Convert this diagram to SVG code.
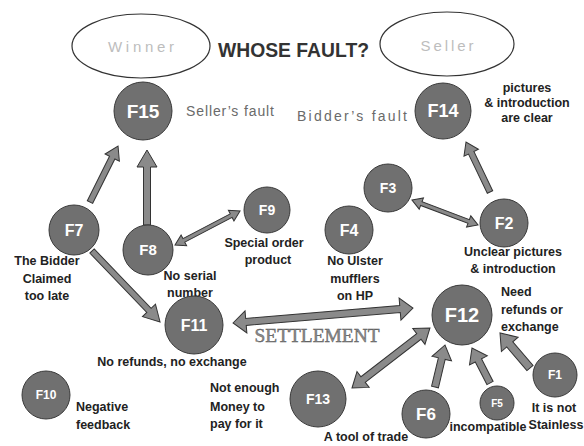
<svg xmlns="http://www.w3.org/2000/svg" width="584" height="446" viewBox="0 0 584 446">
<style>
.bg{fill:#ffffff}
.ell{fill:#ffffff;stroke:#333;stroke-width:1.2}
.ellt{font-family:"Liberation Sans",Arial,sans-serif;font-size:15px;fill:#bdbdbd;text-anchor:middle}
.node circle{fill:#707070;stroke:#3a3a3a;stroke-width:1}
.node text.id{font-family:"Liberation Sans",Arial,sans-serif;font-weight:bold;fill:#ffffff;text-anchor:middle}
.lbl{font-family:"Liberation Sans",Arial,sans-serif;font-weight:bold;font-size:12.5px;fill:#222;text-anchor:middle}
.lbls{font-family:"Liberation Sans",Arial,sans-serif;font-weight:bold;font-size:12.5px;fill:#222;text-anchor:start}
.soft{font-family:"Liberation Sans",Arial,sans-serif;font-size:14px;fill:#6a6a6a}
.arr{fill:#8a8a8a;stroke:#333;stroke-width:1;stroke-linejoin:miter}
</style>
<rect class="bg" x="0" y="0" width="584" height="446"/>

<g id="title">
<ellipse class="ell" cx="141" cy="46" rx="69" ry="32"/>
<text class="ellt" x="141" y="52" textLength="66" lengthAdjust="spacing">Winner</text>
<ellipse class="ell" cx="447" cy="44" rx="67" ry="32"/>
<text class="ellt" x="447" y="51" textLength="53" lengthAdjust="spacing">Seller</text>
<text x="293.5" y="57" font-family="Liberation Sans,Arial,sans-serif" font-weight="bold" font-size="20" fill="#333" text-anchor="middle" textLength="151" lengthAdjust="spacingAndGlyphs">WHOSE FAULT?</text>
<text x="317" y="342" font-family="Liberation Serif,Times New Roman,serif" font-size="19" fill="#8a8a8a" stroke="#555" stroke-width="0.4" text-anchor="middle" textLength="125" lengthAdjust="spacingAndGlyphs">SETTLEMENT</text>
</g>

<g id="connectors">
<path class="arr" transform="translate(90,202) rotate(-63.4)" d="M0,-3 L49.6,-3 L49.6,-8 L62.6,0 L49.6,8 L49.6,3 L0,3 Z"/>
<path class="arr" transform="translate(147,225) rotate(-90)" d="M0,-3.5 L58,-3.5 L58,-10 L75,0 L58,10 L58,3.5 L0,3.5 Z"/>
<path class="arr" transform="translate(175,245) rotate(-27.6)" d="M0,0 L10,-6 L10,-2 L63.4,-2 L63.4,-6 L73.4,0 L63.4,6 L63.4,2 L10,2 L10,6 Z"/>
<path class="arr" transform="translate(92,251) rotate(46.2)" d="M0,-3 L82.3,-3 L82.3,-9 L98.3,0 L82.3,9 L82.3,3 L0,3 Z"/>
<path class="arr" transform="translate(233,323) rotate(-4.76)" d="M0,0 L13,-11 L13,-3.5 L167.6,-3.5 L167.6,-11 L180.6,0 L167.6,11 L167.6,3.5 L13,3.5 L13,11 Z"/>
<path class="arr" transform="translate(412,200) rotate(20.75)" d="M0,0 L10,-6 L10,-2 L60.6,-2 L60.6,-6 L70.6,0 L60.6,6 L60.6,2 L10,2 L10,6 Z"/>
<path class="arr" transform="translate(490,192) rotate(-115.6)" d="M0,-3 L43.5,-3 L43.5,-8 L55.5,0 L43.5,8 L43.5,3 L0,3 Z"/>
<path class="arr" transform="translate(352,388) rotate(-37.6)" d="M0,0 L14,-10 L14,-3.5 L84.4,-3.5 L84.4,-10 L98.4,0 L84.4,10 L84.4,3.5 L14,3.5 L14,10 Z"/>
<path class="arr" transform="translate(435,387) rotate(-76.6)" d="M0,-3.5 L29.2,-3.5 L29.2,-10 L43.2,0 L29.2,10 L29.2,3.5 L0,3.5 Z"/>
<path class="arr" transform="translate(490,383) rotate(-117.2)" d="M0,-3.5 L25.4,-3.5 L25.4,-10 L39.4,0 L25.4,10 L25.4,3.5 L0,3.5 Z"/>
<path class="arr" transform="translate(530,368) rotate(-130.6)" d="M0,-4 L31.1,-4 L31.1,-11 L46.1,0 L31.1,11 L31.1,4 L0,4 Z"/>
</g>

<g id="F15" class="node">
<circle cx="143" cy="111" r="29"/>
<text class="id" x="143" y="118" font-size="19">F15</text>
<text class="soft" x="186" y="116" textLength="88" lengthAdjust="spacing">Seller’s fault</text>
</g>
<g id="F14" class="node">
<circle cx="443" cy="111" r="28"/>
<text class="id" x="443" y="117" font-size="18">F14</text>
<text class="soft" x="297" y="121" textLength="110" lengthAdjust="spacing">Bidder’s fault</text>
<text class="lbl" x="527" y="92">pictures</text>
<text class="lbl" x="527" y="107">&amp; introduction</text>
<text class="lbl" x="527" y="122">are clear</text>
</g>
<g id="F7" class="node">
<circle cx="74" cy="230" r="25"/>
<text class="id" x="74" y="236" font-size="16">F7</text>
<text class="lbl" x="47" y="265">The Bidder</text>
<text class="lbl" x="47" y="283">Claimed</text>
<text class="lbl" x="47" y="300">too late</text>
</g>
<g id="F8" class="node">
<circle cx="148" cy="250" r="25"/>
<text class="id" x="148" y="255" font-size="15">F8</text>
<text class="lbl" x="190" y="280">No serial</text>
<text class="lbl" x="190" y="297">number</text>
</g>
<g id="F9" class="node">
<circle cx="267" cy="210" r="23"/>
<text class="id" x="267" y="215" font-size="14">F9</text>
<text class="lbl" x="264" y="247">Special order</text>
<text class="lbl" x="268" y="264">product</text>
</g>
<g id="F3" class="node">
<circle cx="388" cy="188" r="24"/>
<text class="id" x="388" y="193" font-size="14">F3</text>
</g>
<g id="F4" class="node">
<circle cx="349" cy="230" r="24"/>
<text class="id" x="349" y="236" font-size="16">F4</text>
<text class="lbl" x="355" y="265">No Ulster</text>
<text class="lbl" x="355" y="283">mufflers</text>
<text class="lbl" x="355" y="300">on HP</text>
</g>
<g id="F2" class="node">
<circle cx="504" cy="223" r="24"/>
<text class="id" x="504" y="229" font-size="16">F2</text>
<text class="lbl" x="513" y="256">Unclear pictures</text>
<text class="lbl" x="513" y="273">&amp; introduction</text>
</g>
<g id="F11" class="node">
<circle cx="194" cy="325" r="29"/>
<text class="id" x="194" y="331" font-size="16">F11</text>
<text class="lbl" x="172" y="366">No refunds, no exchange</text>
</g>
<g id="F12" class="node">
<circle cx="462" cy="315" r="30"/>
<text class="id" x="462" y="322" font-size="20">F12</text>
<text class="lbls" x="501" y="296">Need</text>
<text class="lbls" x="501" y="314">refunds or</text>
<text class="lbls" x="501" y="331">exchange</text>
</g>
<g id="F10" class="node">
<circle cx="46" cy="395" r="24"/>
<text class="id" x="46" y="399" font-size="12">F10</text>
<text class="lbls" x="76" y="411">Negative</text>
<text class="lbls" x="76" y="429">feedback</text>
</g>
<g id="F13" class="node">
<circle cx="318" cy="399" r="28"/>
<text class="id" x="318" y="404" font-size="14">F13</text>
<text class="lbls" x="210" y="392">Not enough</text>
<text class="lbls" x="210" y="411">Money to</text>
<text class="lbls" x="210" y="428">pay for it</text>
</g>
<g id="F6" class="node">
<circle cx="426" cy="414" r="24"/>
<text class="id" x="426" y="420" font-size="17">F6</text>
<text class="lbl" x="366" y="441">A tool of trade</text>
</g>
<g id="F5" class="node">
<circle cx="497" cy="403" r="17"/>
<text class="id" x="497" y="407" font-size="10">F5</text>
<text class="lbl" x="488" y="431">incompatible</text>
</g>
<g id="F1" class="node">
<circle cx="555" cy="375" r="22"/>
<text class="id" x="555" y="379" font-size="12">F1</text>
<text class="lbl" x="554" y="412">It is not</text>
<text class="lbl" x="556" y="429">Stainless</text>
</g>
</svg>
